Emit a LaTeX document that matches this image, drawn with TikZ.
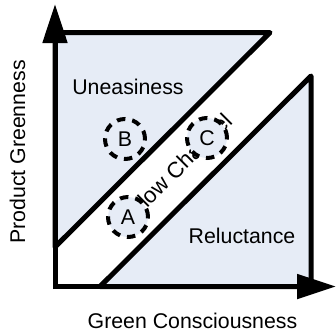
\documentclass[tikz,border=0pt]{standalone}
\usepackage{fontspec}
\setmainfont{Liberation Sans}
\usetikzlibrary{arrows.meta}
\definecolor{regfill}{RGB}{230,236,246}
\begin{document}
\begin{tikzpicture}[x=1pt,y=-1pt,
  region/.style={fill=regfill,draw=black,line width=5pt,line join=round},
  lbl/.style={font=\fontsize{21.3}{25}\selectfont,inner sep=0pt},
  bandlbl/.style={font=\fontsize{22.2}{26}\selectfont,inner sep=0pt,rotate=45},
  zone/.style={circle,draw=black,fill=regfill,line width=4pt,dash pattern=on 8.5pt off 7pt,minimum size=40pt,inner sep=0pt,font=\fontsize{21.3}{25}\selectfont},
  axis/.style={line width=5pt,-{Triangle[length=39pt,width=24pt]}}]
\useasboundingbox (0,0) rectangle (336,333);
% regions
\draw[region] (55,32.5) -- (270,32.5) -- (55,247) -- cycle;
\draw[region] (100,286.5) -- (311,76) -- (311,286.5) -- cycle;
% labels
\node[lbl,anchor=base] (un) at (128,94) {Uneasiness};
\node[lbl,anchor=base] (rel) at (242,243) {Reluctance};
\node[bandlbl] (yc) at (174.2,170.8) {Yellow Channel};
% zones
\node[zone] (B) at (125,139) {B};
\node[zone] (C) at (207,138) {C};
\node[zone] (A) at (128,217) {A};
% axes
\coordinate (O) at (55,286.5);
\coordinate (Ytip) at (55,4);
\coordinate (Xtip) at (336,286.5);
\draw[axis] (O) -- (Ytip);
\draw[axis] (O) -- (Xtip);
\draw[line width=5pt] (55,289) -- (O);
\node[lbl,anchor=base] (xl) at (192.5,328) {Green Consciousness};
\node[lbl,anchor=base,rotate=90] (yl) at (25,152) {Product Greenness};
\end{tikzpicture}
\end{document}
